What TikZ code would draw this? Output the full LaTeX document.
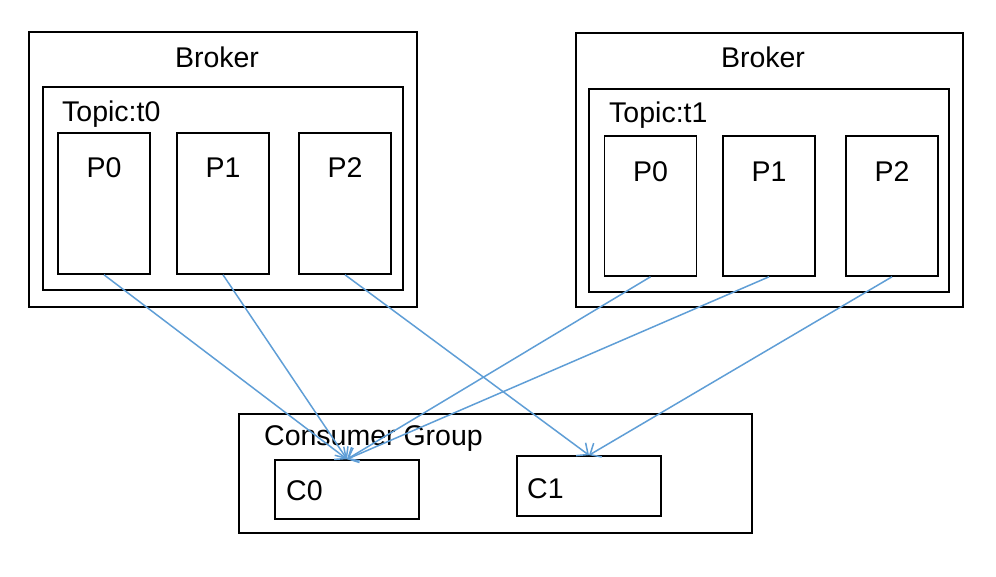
\documentclass[tikz,border=0pt]{standalone}
\usepackage{fontspec}
\setmainfont{Liberation Sans}
\usetikzlibrary{arrows.meta}
\tikzstyle{box} = [rectangle, draw=black, line width=1.6pt, inner sep=0, fill=white]
\tikzstyle{txt} = [inner sep=0, font=\fontsize{28.5}{31}\selectfont]
\definecolor{arrowblue}{RGB}{95,158,214}
\tikzstyle{arrow} = [arrowblue, line width=1.5pt, -{Straight Barb[length=9pt,width=16pt,line width=1.5pt]}]

\begin{document}
\begin{tikzpicture}[x=1pt,y=-1pt]
\useasboundingbox (0,0) rectangle (996,577);

% brokers and topics
\node[box, minimum width=388, minimum height=275] (b0) at (223,169.5) {};
\node[box, minimum width=360, minimum height=203] (t0) at (223,188.5) {};
\node[box, minimum width=387, minimum height=274] (b1) at (769.5,170) {};
\node[box, minimum width=360, minimum height=203] (t1) at (769,190.5) {};
\node[txt] (lb0) at (217,57) {Broker};
\node[txt] (lb1) at (763,57) {Broker};
\node[txt, anchor=west] (lt0) at (62,114) {Topic:t0};
\node[txt, anchor=west] (lt1) at (609,115) {Topic:t1};

% partitions
\foreach \i/\x in {0/104,1/223,2/345}{
	\node[box, minimum width=92, minimum height=141] (pa\i) at (\x,203.5) {};
	\node[txt] (lpa\i) at (\x,168) {P\i};
}
\foreach \i/\x in {0/650.5,1/769,2/892}{
	\node[box, minimum width=92, minimum height=140] (pb\i) at (\x,206) {};
	\node[txt] (lpb\i) at (\x,172) {P\i};
}

% consumer group
\node[box, minimum width=513, minimum height=119] (cg) at (495.5,473.5) {};
\node[txt, anchor=west] (lcg) at (264,439) {Consumer Group};
\node[box, minimum width=144, minimum height=59] (c0) at (347,489.5) {};
\node[box, minimum width=144, minimum height=60] (c1) at (589,486) {};
\node[txt, anchor=west] (lc0) at (286,491) {C0};
\node[txt, anchor=west] (lc1) at (527,489) {C1};

\draw[arrow] (pa0.south) -- (c0.north);
\draw[arrow] (pa1.south) -- (c0.north);
\draw[arrow] (pb0.south) -- (c0.north);
\draw[arrow] (pb1.south) -- (c0.north);
\draw[arrow] (pa2.south) -- (c1.north);
\draw[arrow] (pb2.south) -- (c1.north);
\end{tikzpicture}
\end{document}
